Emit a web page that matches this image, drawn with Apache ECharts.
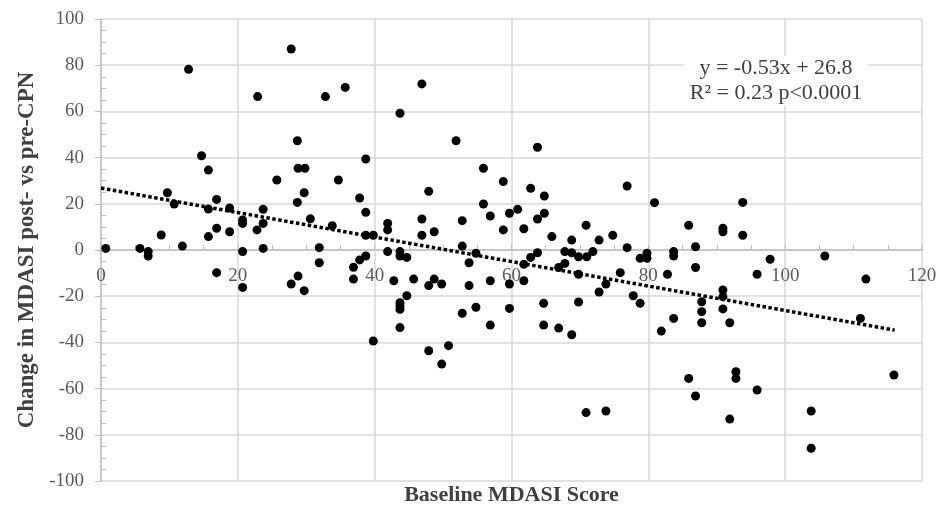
<!DOCTYPE html>
<html>
<head>
<meta charset="utf-8">
<script src="https://cdn.jsdelivr.net/npm/echarts@6/dist/echarts.min.js"></script>
<style>
  html, body { margin: 0; padding: 0; background: #fff; }
  #main { width: 941px; height: 506px; }
</style>
</head>
<body>
<div id="main"></div>
<script>
// baseline score / change pairs
var baseline = [
  0.7, 5.7, 6.9, 6.9, 8.8, 9.7, 10.7, 11.9, 12.8, 14.7, 15.7, 15.7, 15.7, 16.9, 16.9, 16.9,
  18.8, 18.8, 20.7, 20.7, 20.7, 20.7, 22.8, 22.9, 23.7, 23.7, 23.7, 25.7, 27.8, 27.8, 28.7, 28.8,
  28.7, 28.8, 29.8, 29.7, 29.7, 30.6, 31.9, 31.9, 32.8, 33.8, 34.7, 35.7, 36.9, 36.9, 37.8, 37.8,
  38.7, 38.7, 38.7, 38.7, 39.8, 39.8, 41.9, 41.9, 41.9, 42.8, 43.7, 43.7, 43.7, 44.7, 45.7, 43.7,
  43.7, 43.7, 44.7, 43.7, 46.9, 46.9, 46.9, 47.9, 48.7, 47.9, 48.7, 49.8, 47.9, 50.8, 49.8, 51.9,
  52.8, 52.8, 53.8, 54.8, 53.8, 52.8, 54.8, 55.9, 55.9, 56.9, 56.9, 56.9, 58.8, 58.8, 59.7, 59.7,
  59.7, 60.9, 61.8, 61.8, 61.8, 62.8, 62.8, 63.8, 63.8, 63.8, 64.8, 64.8, 64.7, 64.7, 65.9, 66.9,
  66.9, 67.8, 67.8, 68.8, 68.8, 68.8, 69.8, 69.8, 69.8, 70.9, 71.0, 70.9, 71.9, 72.8, 72.8, 73.8,
  73.8, 74.8, 75.9, 76.9, 76.9, 77.8, 78.8, 78.8, 79.8, 79.8, 80.9, 81.9, 82.8, 83.7, 83.7, 83.7,
  85.9, 85.9, 86.9, 86.9, 86.9, 87.8, 87.8, 87.8, 90.9, 90.9, 90.9, 90.9, 90.9, 91.9, 91.9, 92.8,
  92.8, 93.8, 93.8, 95.9, 95.9, 97.8, 103.8, 103.8, 105.8, 111.0, 111.8, 115.9
];
var change = [
  0.7, 0.7, -0.7, -2.6, 6.5, 24.8, 19.9, 1.7, 78.2, 40.8, 34.6, 17.7, 5.8, 21.9, 9.4, -9.8,
  18.2, 7.9, 13.0, 11.5, -0.7, -16.2, 8.7, 66.4, 17.6, 11.5, 0.7, 30.3, 87.0, -14.7, 47.3, 35.4,
  20.6, -11.3, 35.4, 24.8, -17.6, 13.5, 1.0, -5.5, 66.4, 10.5, 30.3, 70.4, -7.5, -12.6, 22.5, -4.3,
  39.4, 16.3, 6.4, -2.6, 6.4, -39.4, 11.5, 8.7, -0.7, -13.3, 59.2, -0.7, -2.6, -3.2, -12.6, -22.8,
  -24.2, -25.7, -19.8, -33.6, 71.9, 13.4, 6.4, 25.4, 7.9, -15.4, -12.6, -14.7, -43.6, -41.4, -49.4, 47.3,
  12.7, 1.7, -5.5, -1.4, -15.4, -27.4, -24.8, 35.4, 19.9, 14.7, -13.3, -32.5, 29.6, 8.7, 15.9, -14.7,
  -25.3, 17.6, 9.2, -6.2, -13.3, 26.7, -3.2, 44.5, 13.4, -1.2, 23.4, 15.9, -23.1, -32.5, 5.8, -7.6,
  -33.8, -0.7, -5.8, 4.3, -1.2, -36.7, -2.9, -10.5, -22.5, 10.7, -2.9, -70.4, -0.7, 4.3, -18.2, -14.7,
  -69.7, 6.4, -9.8, 27.7, 1.0, -19.8, -23.1, -3.6, -3.6, -1.4, 20.5, -35.1, -10.5, -0.7, -2.6, -29.6,
  10.7, -55.6, 1.4, -7.6, -63.2, -22.4, -26.7, -31.5, 9.4, 7.9, -17.3, -20.2, -25.5, -31.5, -73.2, -52.7,
  -55.6, 20.6, 6.4, -10.5, -60.6, -4.0, -69.7, -85.8, -2.6, -29.6, -12.6, -54.1
];

// linear trend line from the printed equation
var trendSlope = -0.53;
var trendIntercept = 26.8;
var trendX = [0, 116];

var xTicks = [0, 120, 20];      // min, max, step
var yTicks = [-100, 100, 20];

var points = baseline.map(function (x, i) { return [x, change[i]]; });
var trend = trendX.map(function (x) { return [x, trendSlope * x + trendIntercept]; });

var serif = '"Liberation Serif", "DejaVu Serif", serif';
var gridColor = '#d9d9d9';
var axisColor = '#bfbfbf';

var gridTop = 19, gridBottom = 25;
var plotH = 506 - gridTop - gridBottom;
// x axis crosses at y = 0
var zeroShift = plotH * (0 - yTicks[0]) / (yTicks[1] - yTicks[0]);

var myChart = echarts.init(document.getElementById('main'));

var option = {
    animation: false,
    grid: { left: 101, right: 19, top: gridTop, bottom: gridBottom, containLabel: false, outerBoundsMode: 'none' },
    xAxis: {
        type: 'value',
        position: 'bottom',
        offset: -zeroShift,
        min: xTicks[0], max: xTicks[1], interval: xTicks[2],
        axisLine: { onZero: false, lineStyle: { color: axisColor, width: 1.5 } },
        axisTick: { show: true, inside: true, length: 5, lineStyle: { color: axisColor } },
        minorTick: { show: true, splitNumber: 4, length: 5, lineStyle: { color: axisColor } },
        splitLine: { show: true, lineStyle: { color: gridColor, width: 1.5 } },
        axisLabel: { color: '#595959', fontFamily: serif, fontSize: 19, margin: 17 },
        name: 'Baseline MDASI Score',
        nameLocation: 'middle',
        nameGap: 234,
        nameTextStyle: { color: '#404040', fontFamily: serif, fontSize: 22, fontWeight: 'bold' }
    },
    yAxis: [{
        type: 'value',
        position: 'left',
        min: yTicks[0], max: yTicks[1], interval: yTicks[2],
        axisLine: { show: true, onZero: false, lineStyle: { color: axisColor, width: 1.5 } },
        axisTick: { show: true, length: 6, lineStyle: { color: axisColor } },
        splitLine: { show: true, lineStyle: { color: gridColor, width: 1.5 } },
        axisLabel: { color: '#595959', fontFamily: serif, fontSize: 19, margin: 17 },
        name: 'Change in MDASI post- vs pre-CPN',
        nameLocation: 'middle',
        nameGap: 62,
        nameTextStyle: { color: '#404040', fontFamily: serif, fontSize: 23, fontWeight: 'bold' }
    }, {
        // only the small inner ticks
        type: 'value',
        position: 'left',
        min: yTicks[0], max: yTicks[1], interval: yTicks[2],
        axisLine: { show: false, onZero: false },
        axisTick: { show: false, inside: true },
        minorTick: { show: true, splitNumber: 4, length: 5, lineStyle: { color: axisColor } },
        splitLine: { show: false },
        axisLabel: { show: false }
    }],
    graphic: [{
        type: 'text',
        x: 776, y: 56,
        z: 100,
        style: {
            text: 'y = -0.53x + 26.8\nR\u00b2 = 0.23 p<0.0001',
            font: '22px ' + serif,
            fill: '#404040',
            textAlign: 'center',
            lineHeight: 25,
            backgroundColor: '#ffffff',
            padding: [0, 6, 0, 6]
        }
    }],
    series: [{
        type: 'scatter',
        data: points,
        symbolSize: 9,
        itemStyle: { color: '#000000', opacity: 1 }
    }, {
        type: 'line',
        data: trend,
        symbol: 'none',
        z: 3,
        lineStyle: { color: '#000000', width: 3.5, type: [3.5, 2.5] }
    }]
};

myChart.setOption(option);
</script>
</body>
</html>
